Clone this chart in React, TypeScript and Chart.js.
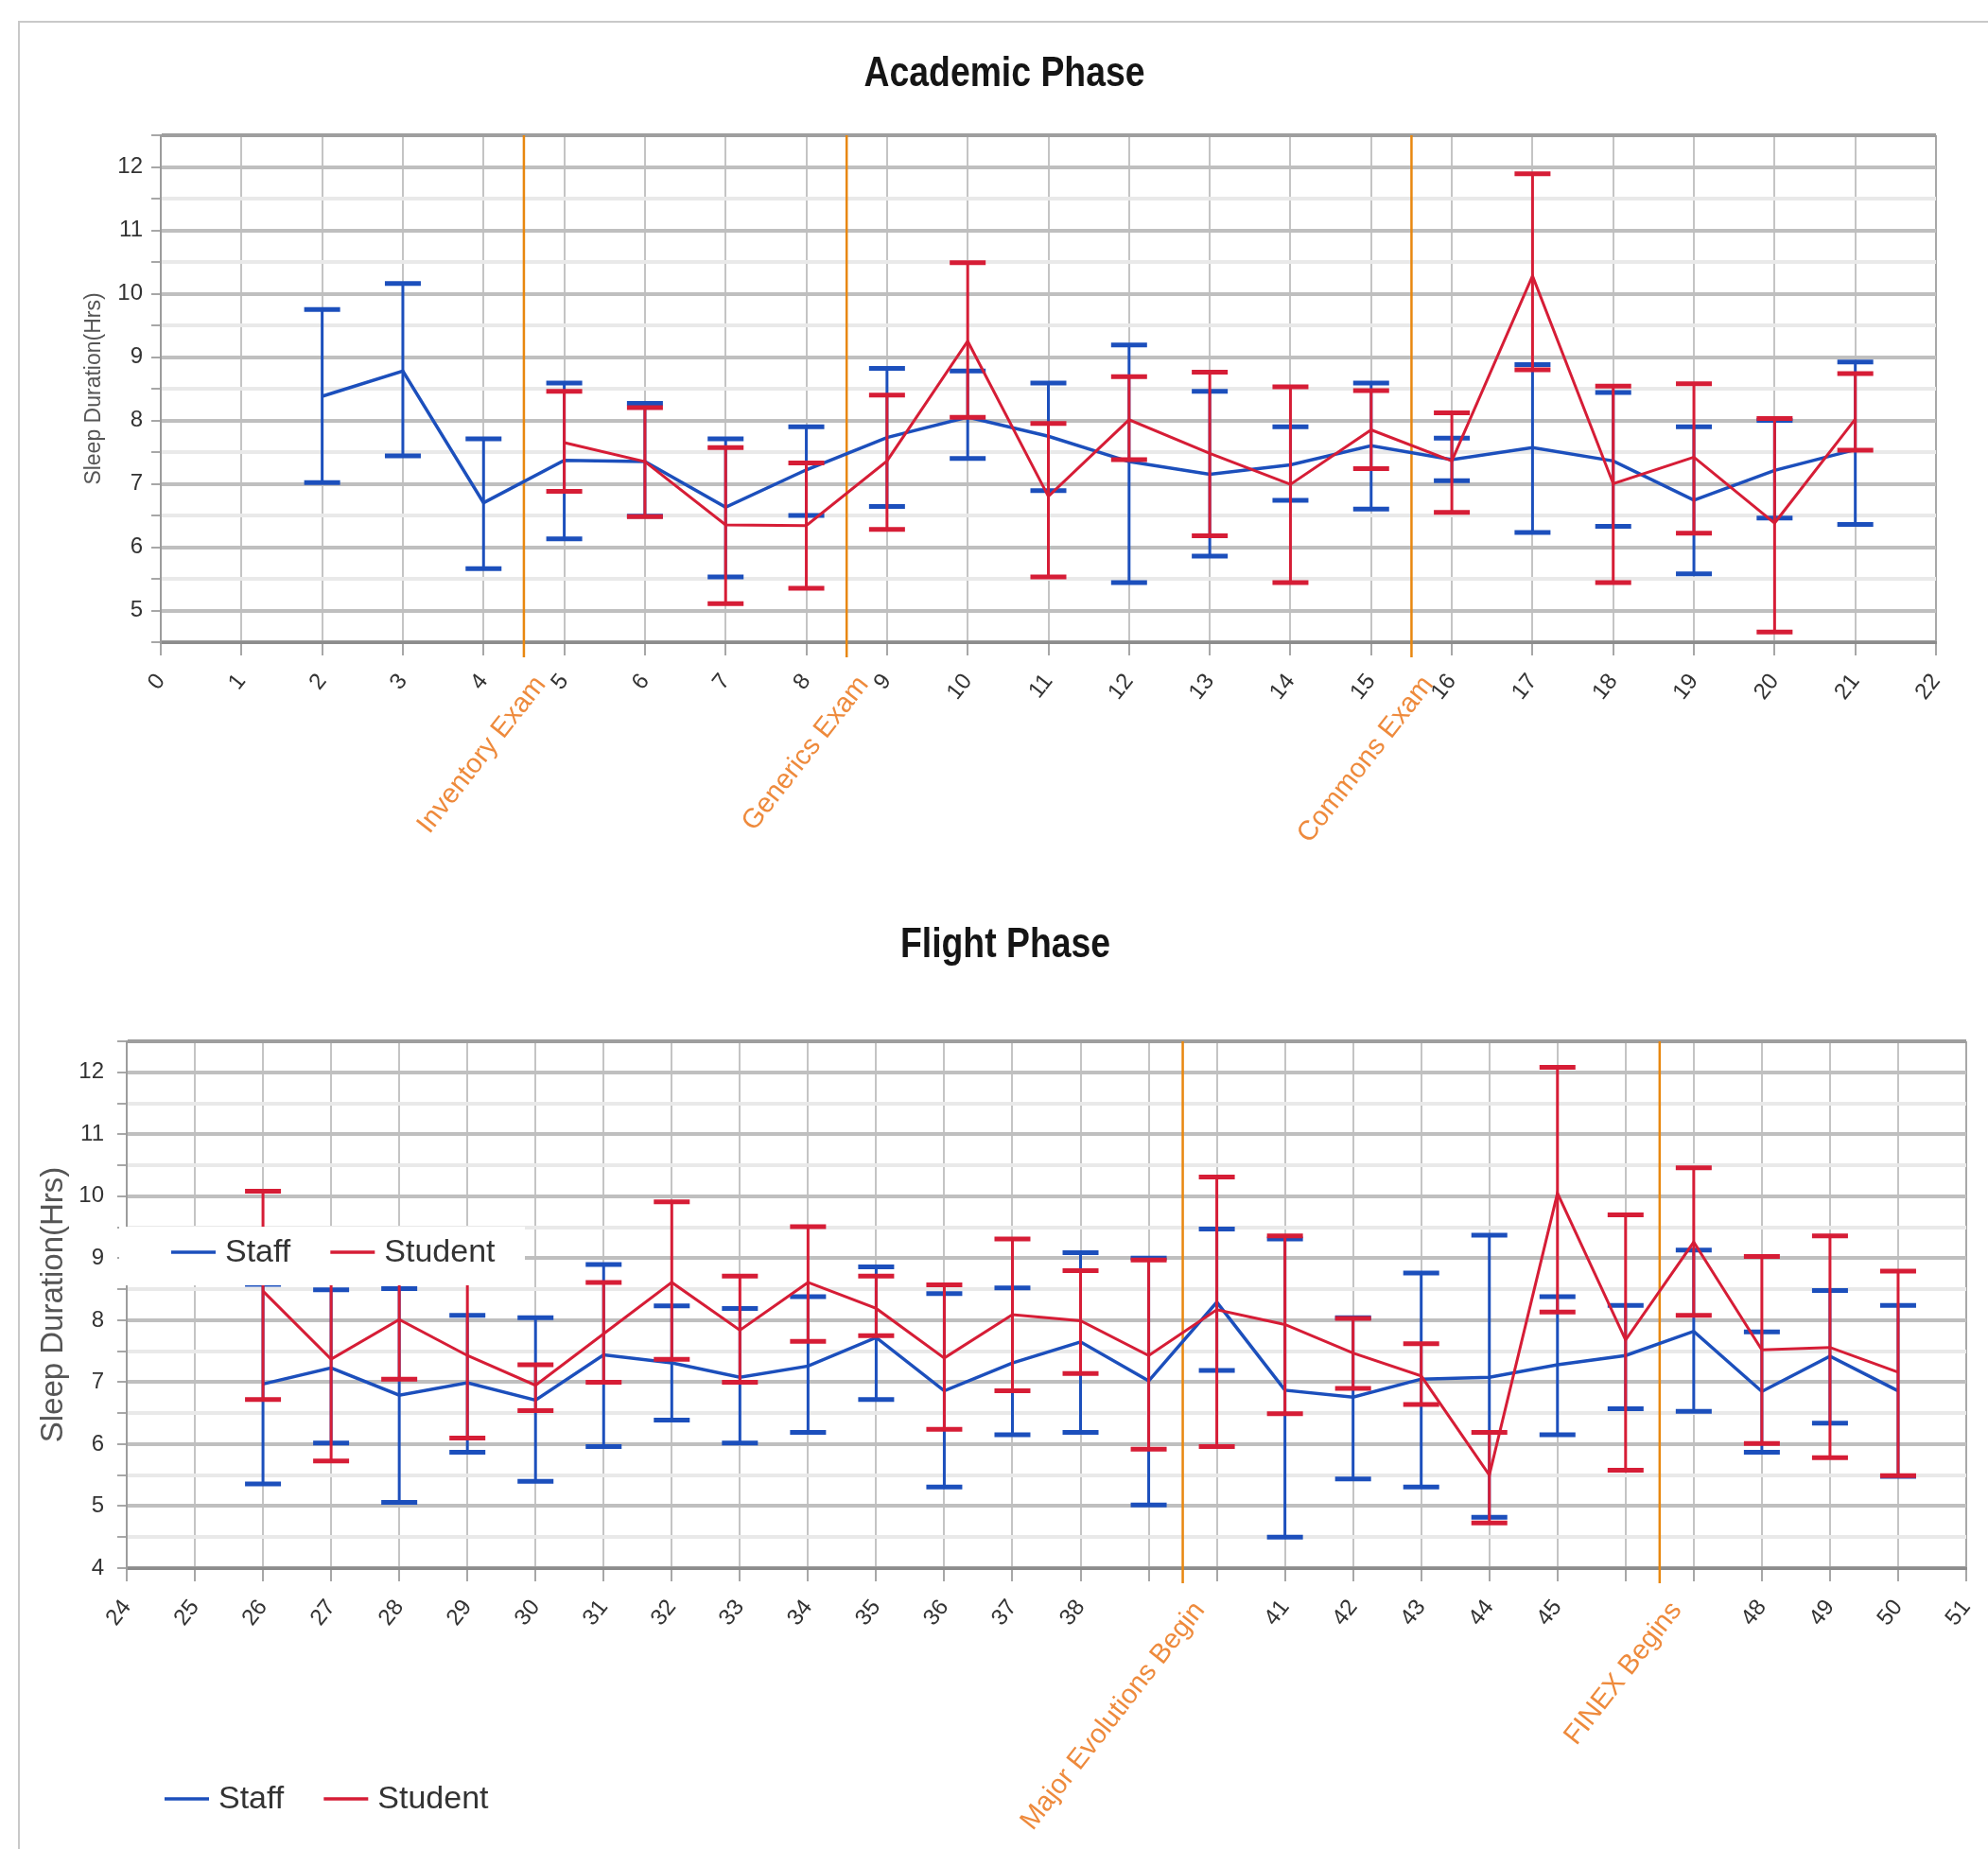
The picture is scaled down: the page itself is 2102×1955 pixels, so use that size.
import React, { useEffect, useRef } from 'react';
import { Chart, registerables } from 'chart.js';

Chart.register(...registerables);

// ---------------- Data: Academic Phase ----------------
const acadStaffWeeks = [2, 3, 4, 5, 6, 7, 8, 9, 10, 11, 12, 13, 14, 15, 16, 17, 18, 19, 20, 21];
const acadStaffMean = [8.38, 8.78, 6.70, 7.37, 7.35, 6.63, 7.22, 7.73, 8.05, 7.75, 7.35, 7.15, 7.30, 7.60, 7.38, 7.57, 7.36, 6.74, 7.21, 7.54];
const acadStaffLow = [7.02, 7.44, 5.66, 6.13, 6.49, 5.53, 6.50, 6.64, 7.40, 6.89, 5.44, 5.86, 6.74, 6.60, 7.05, 6.23, 6.33, 5.58, 6.46, 6.36];
const acadStaffHigh = [9.75, 10.16, 7.71, 8.59, 8.27, 7.71, 7.90, 8.82, 8.78, 8.59, 9.19, 8.46, 7.90, 8.59, 7.72, 8.88, 8.44, 7.90, 8.00, 8.92];

const acadStudentWeeks = [5, 6, 7, 8, 9, 10, 11, 12, 13, 14, 15, 16, 17, 18, 19, 20, 21];
const acadStudentMean = [7.65, 7.35, 6.35, 6.34, 7.36, 9.25, 6.80, 8.01, 7.48, 6.99, 7.85, 7.36, 10.28, 7.00, 7.42, 6.38, 8.02];
const acadStudentLow = [6.88, 6.48, 5.11, 5.35, 6.28, 8.05, 5.53, 7.38, 6.18, 5.44, 7.24, 6.55, 8.80, 5.44, 6.22, 4.66, 7.53];
const acadStudentHigh = [8.46, 8.20, 7.57, 7.33, 8.40, 10.49, 7.95, 8.69, 8.76, 8.53, 8.47, 8.12, 11.89, 8.54, 8.58, 8.03, 8.74];

const acadMarkerWeeks = [4.5, 8.5, 15.5];
const acadMarkerLabels = ['Inventory Exam', 'Generics Exam', 'Commons Exam'];
const acadHiddenTicks: number[] = [];

// ---------------- Data: Flight Phase ----------------
const flightStaffWeeks = [26, 27, 28, 29, 30, 31, 32, 33, 34, 35, 36, 37, 38, 39, 40, 41, 42, 43, 44, 45, 46, 47, 48, 49, 50];
const flightStaffMean = [6.97, 7.23, 6.79, 6.99, 6.71, 7.44, 7.31, 7.08, 7.26, 7.72, 6.86, 7.31, 7.65, 7.02, 8.29, 6.87, 6.76, 7.05, 7.08, 7.28, 7.43, 7.82, 6.85, 7.42, 6.86];
const flightStaffLow = [5.36, 6.02, 5.06, 5.87, 5.40, 5.96, 6.39, 6.02, 6.19, 6.72, 5.31, 6.15, 6.19, 5.02, 7.19, 4.50, 5.44, 5.31, 4.82, 6.15, 6.57, 6.53, 5.87, 6.34, 5.48];
const flightStaffHigh = [8.58, 8.49, 8.51, 8.08, 8.04, 8.90, 8.23, 8.19, 8.38, 8.86, 8.43, 8.52, 9.09, 9.00, 9.47, 9.31, 8.04, 8.76, 9.37, 8.38, 8.24, 9.13, 7.81, 8.48, 8.24];

const flightStudentWeeks = [26, 27, 28, 29, 30, 31, 32, 33, 34, 35, 36, 37, 38, 39, 40, 41, 42, 43, 44, 45, 46, 47, 48, 49, 50];
const flightStudentMean = [8.47, 7.37, 8.01, 7.43, 6.95, 7.78, 8.61, 7.84, 8.61, 8.19, 7.39, 8.09, 7.99, 7.43, 8.17, 7.93, 7.47, 7.10, 5.50, 10.05, 7.68, 9.26, 7.52, 7.56, 7.16];
const flightStudentLow = [6.72, 5.73, 7.05, 6.10, 6.54, 7.00, 7.37, 7.00, 7.66, 7.75, 6.24, 6.86, 7.14, 5.92, 5.96, 6.49, 6.90, 6.64, 4.73, 8.13, 5.58, 8.08, 6.01, 5.78, 5.49];
const flightStudentHigh = [10.08, 9.00, 8.98, 8.76, 7.28, 8.61, 9.91, 8.71, 9.51, 8.71, 8.57, 9.31, 8.80, 8.97, 10.31, 9.36, 8.03, 7.62, 6.19, 12.08, 9.70, 10.46, 9.03, 9.36, 8.79];

const flightMarkerWeeks = [39.5, 46.5];
const flightMarkerLabels = ['Major Evolutions Begin', 'FINEX Begins'];
const flightHiddenTicks = [39, 40, 46, 47];

const seriesNames = ['Staff', 'Student'];
const yAxisTitle = 'Sleep Duration(Hrs)';

// ---------------- Styles ----------------
const SANS = "'Liberation Sans', Arial, sans-serif";
const BLUE = '#1c4fbc';
const RED = '#d61d36';
const ORANGE_LINE = '#e8870f';
const ORANGE_TEXT = '#ee8a3c';
const DEG = Math.PI / 180;
const ROT = 52;

function points(weeks: number[], vals: number[]) {
  return weeks.map((w, i) => ({ x: w, y: vals[i] }));
}

// condensed bold chart title (drawn as canvas text, horizontally condensed)
const titlePlugin = {
  id: 'phaseTitle',
  afterDraw(chart: any, _args: any, opts: any) {
    const ctx = chart.ctx;
    ctx.save();
    ctx.translate(opts.x, opts.y);
    ctx.scale(0.83, 1);
    ctx.font = `bold ${opts.size}px ${SANS}`;
    ctx.fillStyle = '#151515';
    ctx.textAlign = 'center';
    ctx.textBaseline = 'middle';
    ctx.fillText(opts.text, 0, 0);
    ctx.restore();
  },
};

// error bars drawn through the chart scales, under each dataset's mean line
const errorBarPlugin = {
  id: 'errorBars',
  beforeDatasetDraw(chart: any, args: any) {
    const ds = chart.data.datasets[args.index];
    if (!ds.errLow) return;
    const { ctx, chartArea } = chart;
    const xs = chart.scales.x;
    const ys = chart.scales.y;
    ctx.save();
    ctx.beginPath();
    ctx.rect(chartArea.left, chartArea.top, chartArea.right - chartArea.left, chartArea.bottom - chartArea.top);
    ctx.clip();
    ctx.strokeStyle = ds.borderColor;
    ctx.lineCap = 'butt';
    ds.data.forEach((p: any, i: number) => {
      const x = xs.getPixelForValue(p.x);
      const yl = ys.getPixelForValue(ds.errLow[i]);
      const yh = ys.getPixelForValue(ds.errHigh[i]);
      ctx.lineWidth = 3;
      ctx.beginPath();
      ctx.moveTo(x, yl);
      ctx.lineTo(x, yh);
      ctx.stroke();
      ctx.lineWidth = 5;
      ctx.beginPath();
      ctx.moveTo(x - 19, yl);
      ctx.lineTo(x + 19, yl);
      ctx.moveTo(x - 19, yh);
      ctx.lineTo(x + 19, yh);
      ctx.stroke();
    });
    ctx.restore();
  },
};

// reference (event) lines with rotated labels below the axis
const markerPlugin = {
  id: 'markers',
  beforeDatasetsDraw(chart: any, _args: any, opts: any) {
    const { ctx, chartArea } = chart;
    const xs = chart.scales.x;
    ctx.save();
    ctx.strokeStyle = ORANGE_LINE;
    ctx.lineWidth = 2.5;
    (opts.weeks || []).forEach((w: number) => {
      const x = xs.getPixelForValue(w);
      ctx.beginPath();
      ctx.moveTo(x, chartArea.top);
      ctx.lineTo(x, chartArea.bottom + 16);
      ctx.stroke();
    });
    ctx.restore();
  },
  afterDraw(chart: any, _args: any, opts: any) {
    const { ctx, chartArea } = chart;
    const xs = chart.scales.x;
    ctx.save();
    ctx.fillStyle = ORANGE_TEXT;
    ctx.font = `${opts.size}px ${SANS}`;
    ctx.textAlign = 'right';
    ctx.textBaseline = 'middle';
    (opts.weeks || []).forEach((w: number, i: number) => {
      const x = xs.getPixelForValue(w);
      ctx.save();
      ctx.translate(x + 4, chartArea.bottom + opts.offset);
      ctx.rotate(-ROT * DEG);
      ctx.fillText(opts.labels[i], 0, opts.size * 0.6);
      ctx.restore();
    });
    ctx.restore();
  },
};

// line-swatch legends (Staff / Student)
const legendPlugin = {
  id: 'lineLegends',
  afterDraw(chart: any, _args: any, opts: any) {
    const ctx = chart.ctx;
    const dsets = chart.data.datasets;
    (opts.items || []).forEach((lg: any) => {
      ctx.save();
      if (lg.box) {
        ctx.fillStyle = '#ffffff';
        ctx.fillRect(lg.box[0], lg.box[1], lg.box[2], lg.box[3]);
      }
      ctx.font = `${lg.size}px ${SANS}`;
      ctx.textBaseline = 'middle';
      ctx.textAlign = 'left';
      let x = lg.x;
      dsets.forEach((d: any) => {
        ctx.strokeStyle = d.borderColor;
        ctx.lineWidth = 3.5;
        ctx.beginPath();
        ctx.moveTo(x, lg.y);
        ctx.lineTo(x + 47, lg.y);
        ctx.stroke();
        x += 57;
        ctx.fillStyle = '#333333';
        ctx.fillText(d.label, x, lg.y + 1);
        x += ctx.measureText(d.label).width + 42;
      });
      ctx.restore();
    });
  },
};

function makeConfig(p: any) {
  const gridColor = (c: any) => {
    const v = c.tick ? c.tick.value : 0;
    if (v === p.yMin || v === p.yMax) return '#9e9e9e';
    return Number.isInteger(v) ? '#bfbfbf' : '#e9e9e9';
  };
  return {
    type: 'line',
    data: {
      datasets: [
        {
          label: seriesNames[0],
          data: points(p.staffWeeks, p.staffMean),
          errLow: p.staffLow,
          errHigh: p.staffHigh,
          borderColor: BLUE,
          backgroundColor: BLUE,
          borderWidth: 3.5,
          pointRadius: 0,
          tension: 0,
          fill: false,
          order: 1,
        },
        {
          label: seriesNames[1],
          data: points(p.studentWeeks, p.studentMean),
          errLow: p.studentLow,
          errHigh: p.studentHigh,
          borderColor: RED,
          backgroundColor: RED,
          borderWidth: 3,
          pointRadius: 0,
          tension: 0,
          fill: false,
          order: 0,
        },
      ],
    },
    options: {
      responsive: false,
      animation: false,
      devicePixelRatio: 1,
      events: [],
      layout: { padding: { left: p.padL, right: p.padR, top: p.padT, bottom: 0 } },
      plugins: {
        legend: { display: false },
        tooltip: { enabled: false },
        title: { display: false },
        phaseTitle: { text: p.title, x: p.titleX, y: p.titleY, size: 45 },
        markers: { weeks: p.markerWeeks, labels: p.markerLabels, size: 29, offset: 29 },
        lineLegends: { items: p.legends },
      },
      scales: {
        x: {
          type: 'linear',
          min: p.xMin,
          max: p.xMax,
          afterFit: (s: any) => {
            s.height = p.xAxisHeight;
            s.paddingLeft = 0;
            s.paddingRight = 0;
          },
          ticks: {
            stepSize: 1,
            maxTicksLimit: 200,
            autoSkip: false,
            minRotation: ROT,
            maxRotation: ROT,
            padding: 14,
            color: '#333333',
            font: { family: SANS, size: 24 },
            callback: (v: any) => (p.hiddenTicks.includes(v) ? '' : String(v)),
          },
          grid: {
            color: (c: any) => (c.tick && (c.tick.value === p.xMin || c.tick.value === p.xMax) ? '#a8a8a8' : '#c4c4c4'),
            lineWidth: 2,
            tickLength: 14,
            tickWidth: 1.5,
            tickColor: '#8a8a8a',
          },
          border: { display: true, color: '#8c8c8c', width: 3 },
        },
        y: {
          type: 'linear',
          min: p.yMin,
          max: p.yMax,
          afterFit: (s: any) => {
            s.width = p.yAxisWidth;
          },
          title: {
            display: true,
            text: yAxisTitle,
            color: '#555555',
            font: { family: SANS, size: p.yTitleSize, lineHeight: 1.2 },
            padding: { top: p.yTitlePad, bottom: 0 },
          },
          ticks: {
            stepSize: 0.5,
            maxTicksLimit: 200,
            autoSkip: false,
            padding: p.yTickPad,
            color: '#333333',
            font: { family: SANS, size: 24 },
            callback: (v: any) => (Number.isInteger(v) ? String(v) : ''),
          },
          grid: {
            color: gridColor,
            lineWidth: 4,
            tickLength: 10,
            tickWidth: 1.5,
            tickColor: '#8a8a8a',
          },
          border: { display: true, color: '#9c9c9c', width: 2 },
        },
      },
    },
    plugins: [errorBarPlugin, markerPlugin, legendPlugin, titlePlugin],
  };
}

const TOP_H = 940;
const BOT_TOP = 930;
const BOT_H = 1955 - BOT_TOP;

export default function App() {
  const topRef = useRef<HTMLCanvasElement>(null);
  const botRef = useRef<HTMLCanvasElement>(null);

  useEffect(() => {
    document.body.style.margin = '0';
    const c1 = new Chart(
      topRef.current as HTMLCanvasElement,
      makeConfig({
        title: 'Academic Phase',
        titleX: 1062,
        titleY: 79,
        xMin: 0,
        xMax: 22,
        yMin: 4.5,
        yMax: 12.5,
        padL: 77,
        padR: 55,
        padT: 143,
        yAxisWidth: 93,
        xAxisHeight: TOP_H - 679,
        yTitleSize: 23,
        yTitlePad: 9,
        yTickPad: 9,
        hiddenTicks: acadHiddenTicks,
        markerWeeks: acadMarkerWeeks,
        markerLabels: acadMarkerLabels,
        staffWeeks: acadStaffWeeks,
        staffMean: acadStaffMean,
        staffLow: acadStaffLow,
        staffHigh: acadStaffHigh,
        studentWeeks: acadStudentWeeks,
        studentMean: acadStudentMean,
        studentLow: acadStudentLow,
        studentHigh: acadStudentHigh,
        legends: [],
      }) as any
    );
    const c2 = new Chart(
      botRef.current as HTMLCanvasElement,
      makeConfig({
        title: 'Flight Phase',
        titleX: 1063,
        titleY: 1000 - BOT_TOP,
        xMin: 24,
        xMax: 51,
        yMin: 4,
        yMax: 12.5,
        padL: 36,
        padR: 2102 - 2079,
        padT: 1101 - BOT_TOP,
        yAxisWidth: 98,
        xAxisHeight: BOT_H - (1658 - BOT_TOP),
        yTitleSize: 33,
        yTitlePad: 1,
        yTickPad: 14,
        hiddenTicks: flightHiddenTicks,
        markerWeeks: flightMarkerWeeks,
        markerLabels: flightMarkerLabels,
        staffWeeks: flightStaffWeeks,
        staffMean: flightStaffMean,
        staffLow: flightStaffLow,
        staffHigh: flightStaffHigh,
        studentWeeks: flightStudentWeeks,
        studentMean: flightStudentMean,
        studentLow: flightStudentLow,
        studentHigh: flightStudentHigh,
        legends: [
          { box: [126, 1297 - BOT_TOP, 429, 62], x: 181, y: 1324 - BOT_TOP, size: 34 },
          { x: 174, y: 1902 - BOT_TOP, size: 34 },
        ],
      }) as any
    );
    return () => {
      c1.destroy();
      c2.destroy();
    };
  }, []);

  return (
    <div style={{ position: 'relative', width: 2102, height: 1955, overflow: 'hidden', background: '#ffffff' }}>
      <div
        style={{
          position: 'absolute',
          left: 19,
          top: 22,
          width: 2200,
          height: 2000,
          borderTop: '2px solid #c9c9c9',
          borderLeft: '2px solid #c9c9c9',
        }}
      />
      <canvas
        ref={topRef}
        width={2102}
        height={TOP_H}
        style={{ position: 'absolute', left: 0, top: 0, width: 2102, height: TOP_H }}
      />
      <canvas
        ref={botRef}
        width={2102}
        height={BOT_H}
        style={{ position: 'absolute', left: 0, top: BOT_TOP, width: 2102, height: BOT_H }}
      />
    </div>
  );
}
